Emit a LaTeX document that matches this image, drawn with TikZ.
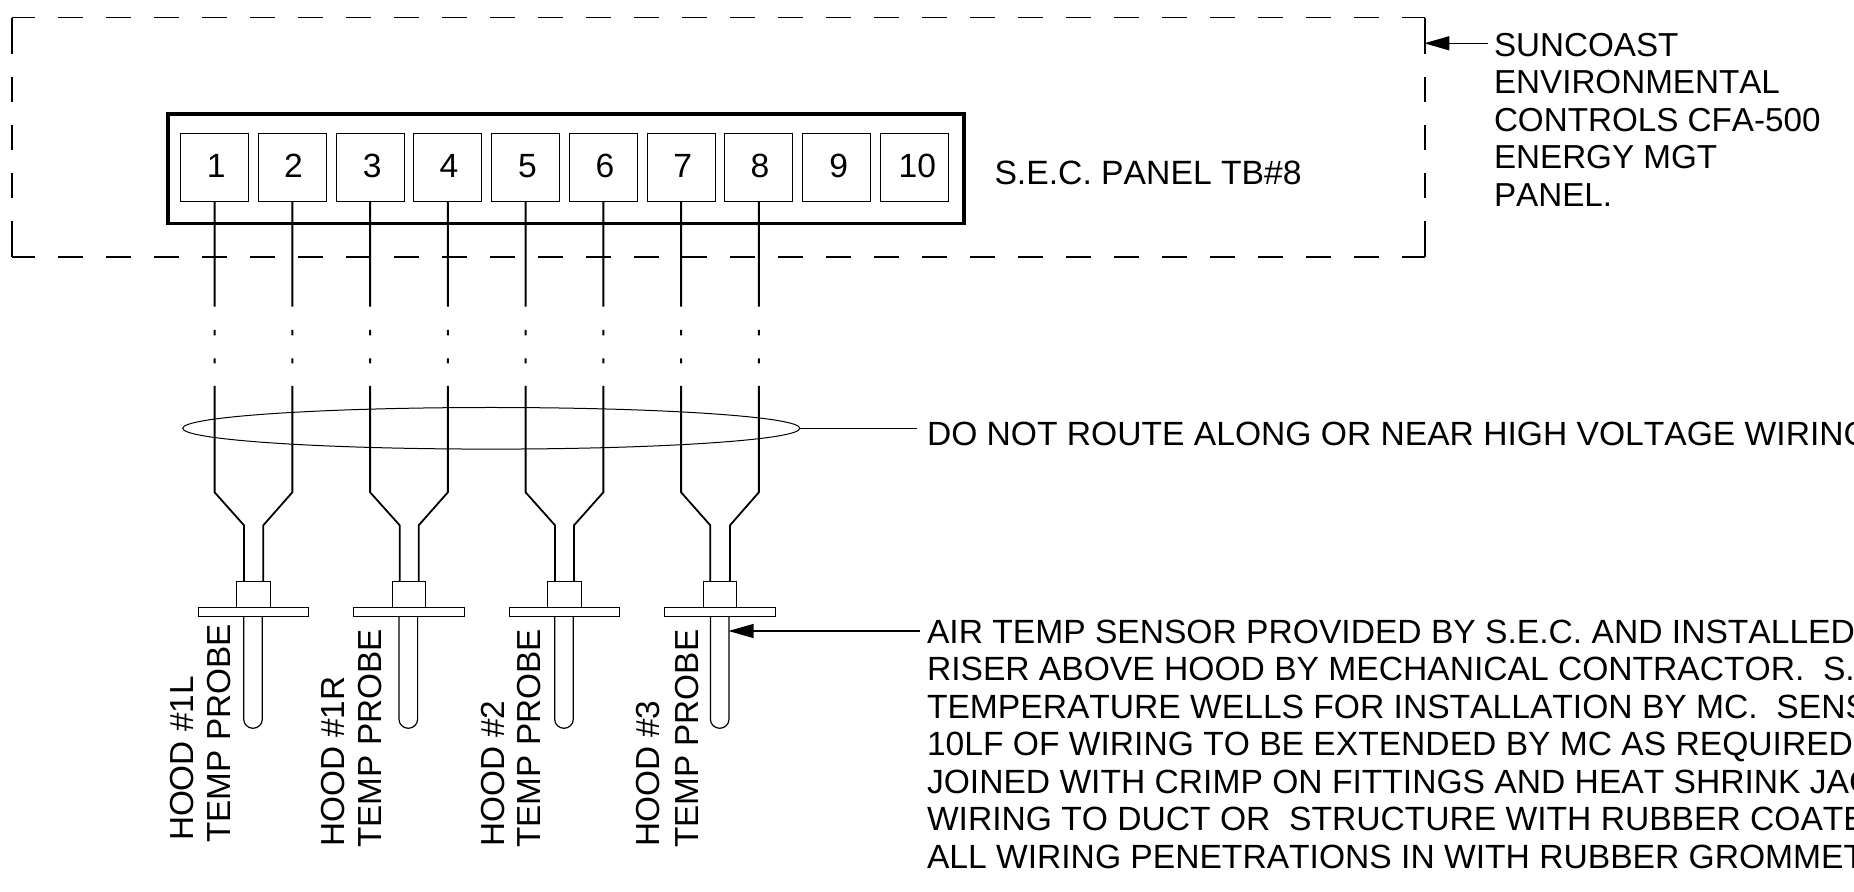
\documentclass[tikz,border=0pt]{standalone}
\usepackage{fontspec}
\setmainfont[Kerning=Off]{Liberation Sans}
\usetikzlibrary{arrows.meta,shapes.geometric}
\tikzset{
  lbl/.style={inner sep=0pt,outer sep=0pt,anchor=base west,font=\fontsize{16.8}{18.7}\selectfont},
  vlbl/.style={lbl,rotate=90,font=\fontsize{16.65}{18.7}\selectfont},
  notes/.style={inner sep=0pt,outer sep=0pt,anchor=north west,align=left,font=\fontsize{16.6}{18.7}\selectfont\frenchspacing},
  digit/.style={inner sep=0pt,outer sep=0pt,anchor=base,font=\fontsize{16.8}{18}\selectfont},
  term/.style={draw,line width=.6pt,inner sep=0pt,outer sep=0pt,minimum width=34pt,minimum height=34pt},
  panel/.style={draw,line width=1.7pt,line join=miter},
  wire/.style={draw,line width=.9pt,line join=miter,
    dash pattern=on 52.5pt off 11.65pt on 2.65pt off 11.5pt on 2.5pt off 11.35pt on 400pt off 10pt},
  hdash/.style={line width=.9pt,dash pattern=on 12.5pt off 11.5pt,dash phase=1pt},
  vdash/.style={line width=.9pt,dash pattern=on 18.1pt off 11.5pt on 12.5pt off 11.5pt on 12.5pt off 11.5pt on 12.5pt off 11.5pt on 18.5pt off 50pt},
  part/.style={draw,line width=.6pt,inner sep=0pt,outer sep=0pt},
  leader/.style={line width=.65pt},
  pointer/.style={leader,-{Triangle[length=12.5pt,width=7pt]}},
}
\begin{document}
\begin{tikzpicture}[x=.5pt,y=-.5pt]
\useasboundingbox (0,0) rectangle (1854,892);
\clip (0,0) rectangle (1854,892);
% dashed enclosure
\coordinate (tl) at (12.3,17.6);
\coordinate (tr) at (1424.7,17.6);
\coordinate (bl) at (12.3,257.2);
\coordinate (br) at (1424.7,257.2);
\draw[hdash] (tl) -- (tr);
\draw[hdash] (bl) -- (br);
\draw[vdash] (tl) -- (bl);
\draw[vdash] (tr) -- (br);
% panel
\draw[panel] (168,114) rectangle (964.1,223.3);
% terminals
\foreach \i in {1,...,10}{
  \pgfmathsetmacro{\cx}{214.6+77.75*(\i-1)}
  \node[term] (t\i) at (\cx,167.7) {};
}
\foreach \i/\dx in {1/1.7,2/1.2,3/2.2,4/1,5/1.8,6/1.6,7/1.7,8/1.2,9/2,10/3}{
  \pgfmathsetmacro{\cx}{214.6+77.75*(\i-1)+\dx}
  \node[digit] (d\i) at (\cx,177.3) {\i};
}
% bundle ellipse
\node[ellipse,draw,line width=.5pt,inner sep=0pt,outer sep=0pt,minimum width=308.6pt,minimum height=20.8pt] (bundle) at (491.3,428.3) {};
% probes: body centre, wire inner left and right, stem centre
\foreach \n/\c/\l/\r/\s in {1/253.5/244/263.3/253,2/409/399.7/418.7/408.3,3/564.5/555/574/564,4/720/710.3/730/719.7}{
  \node[part,minimum width=16.8pt,minimum height=13pt] (s\n) at (\c,594.5) {};
  \node[part,minimum width=55.2pt,minimum height=4.5pt] (f\n) at (\c,612) {};
  \draw[line width=.6pt] (\s-9.3,616.3) -- (\s-9.3,719.3)
    .. controls (\s-9.3,724.3) and (\s-5,728.3) .. (\s,728.3)
    .. controls (\s+5,728.3) and (\s+9.3,724.3) .. (\s+9.3,719.3) -- (\s+9.3,616.3);
  \coordinate (il\n) at (\l,525.3);
  \coordinate (ir\n) at (\r,525.3);
}
% wires
\foreach \a/\p/\e in {1/1/il,2/1/ir,3/2/il,4/2/ir,5/3/il,6/3/ir,7/4/il,8/4/ir}{
  \path[wire] (t\a.south) -- ++(0,290.6) -- (\e\p) -- (\e\p |- s\p.north);
}
% labels
\node[lbl,font=\fontsize{16.85}{18.7}\selectfont] (panelname) at (994.5,184.3) {S.E.C. PANEL TB\#8};
\node[notes] (suncoast) at (1494,33.3) {SUNCOAST\\ENVIRONMENTAL\\CONTROLS CFA-500\\ENERGY MGT\\PANEL.};
\node[lbl] (routing) at (927,445.7) {DO NOT ROUTE ALONG OR NEAR HIGH VOLTAGE WIRING};
\node[notes,font=\fontsize{16.8}{18.75}\selectfont\frenchspacing] (sensor) at (927,620) {AIR TEMP SENSOR PROVIDED BY S.E.C. AND INSTALLED\\RISER ABOVE HOOD BY MECHANICAL CONTRACTOR.~ S.\\TEMPERATURE WELLS FOR INSTALLATION BY MC.~ SENS\\10LF OF WIRING TO BE EXTENDED BY MC AS REQUIRED\\JOINED WITH CRIMP ON FITTINGS AND HEAT SHRINK JAC\\WIRING TO DUCT OR~ STRUCTURE WITH RUBBER COATE\\ALL WIRING PENETRATIONS IN WITH RUBBER GROMMET};
\node[vlbl] (h1) at (193.3,841) {HOOD \#1L};
\node[vlbl] (p1) at (230,842.7) {TEMP PROBE};
\node[vlbl] (h2) at (344.3,846.7) {HOOD \#1R};
\node[vlbl] (p2) at (381.7,847.7) {TEMP PROBE};
\node[vlbl] (h3) at (504.3,846.7) {HOOD \#2};
\node[vlbl] (p3) at (540.7,847.7) {TEMP PROBE};
\node[vlbl] (h4) at (659.4,846.7) {HOOD \#3};
\node[vlbl] (p4) at (698.7,848) {TEMP PROBE};
% leaders
\coordinate (a1s) at (1488.3,43.3);
\coordinate (a1t) at (1424.3,43.3);
\draw[pointer] (a1s) -- (a1t);
\coordinate (a2s) at (916.7,428.3);
\draw[leader] (a2s) -- (bundle.east);
\coordinate (a3s) at (920,631);
\coordinate (a3t) at (728.5,631);
\draw[pointer] (a3s) -- (a3t);
\end{tikzpicture}
\end{document}
